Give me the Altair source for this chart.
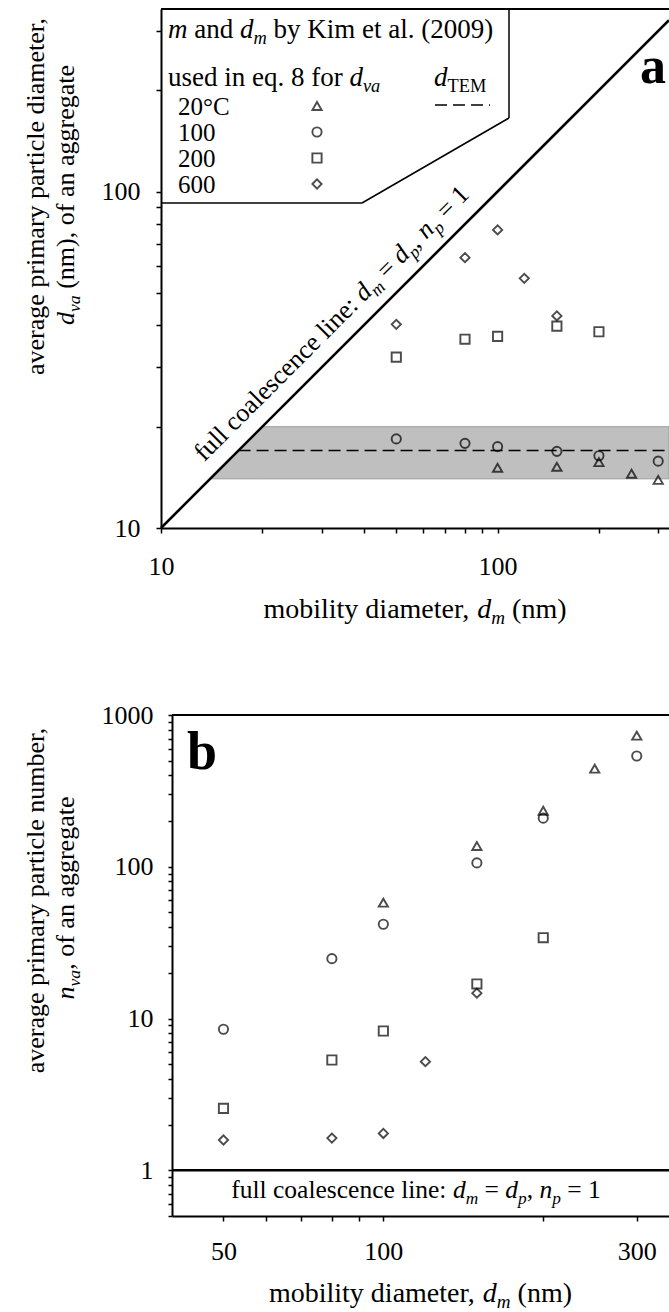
import altair as alt
import pandas as pd

FONT = "Liberation Serif"

# ---------------- data ----------------
temps = ["20", "100", "200", "600"]
temp_labels = ["20°C", "100", "200", "600"]
temp_shapes = ["triangle-up", "circle", "square", "diamond"]

# panel a: average primary particle diameter d_va (nm) vs mobility diameter d_m (nm)
a20_dm = [100, 150, 200, 250, 300]
a20_dva = [15.1, 15.2, 15.7, 14.5, 13.9]
a100_dm = [50, 80, 100, 150, 200, 300]
a100_dva = [18.4, 17.85, 17.45, 16.9, 16.4, 15.8]
a200_dm = [50, 80, 100, 150, 200]
a200_dva = [32.2, 36.4, 37.1, 39.8, 38.3]
a600_dm = [50, 80, 100, 120, 150]
a600_dva = [40.3, 63.6, 76.9, 55.2, 42.7]

# panel b: average primary particle number n_va vs mobility diameter d_m (nm)
b20_dm = [100, 150, 200, 250, 300]
b20_nva = [58, 137, 234, 443, 731]
b100_dm = [50, 80, 100, 150, 200, 300]
b100_nva = [8.5, 24.8, 41.8, 106, 209, 537]
b200_dm = [50, 80, 100, 150, 200]
b200_nva = [2.56, 5.33, 8.28, 16.9, 34.1]
b600_dm = [50, 80, 100, 120, 150]
b600_nva = [1.585, 1.63, 1.75, 5.2, 14.7]

# TEM primary particle diameter and its band
d_tem = 17
d_tem_low = 14
d_tem_high = 20

# axes
a_x_domain = [10, 323]
a_y_domain = [10, 348.7]
b_x_domain = [40, 345]
b_y_domain = [0.5, 1000]
a_ticks = [10, 20, 30, 40, 50, 60, 70, 80, 90, 100, 200, 300]
a_labels = [10, 100]
b_x_ticks = [50, 60, 70, 80, 90, 100, 200, 300]
b_x_labels = [50, 100, 300]
b_y_ticks = [0.5, 0.6, 0.7, 0.8, 0.9, 1, 2, 3, 4, 5, 6, 7, 8, 9,
             10, 20, 30, 40, 50, 60, 70, 80, 90,
             100, 200, 300, 400, 500, 600, 700, 800, 900, 1000]
b_y_labels = [1, 10, 100, 1000]

# ---------------- text helpers (Times metrics) ----------------
W_R = {' ': 250, '(': 333, ')': 333, ',': 250, '.': 250, ':': 278, '=': 564, '°': 400,
       'C': 667, 'E': 611, 'K': 722, 'M': 889, 'T': 611,
       'a': 444, 'b': 500, 'c': 444, 'd': 500, 'e': 444, 'f': 333, 'g': 500, 'h': 500,
       'i': 278, 'l': 278, 'm': 778, 'n': 500, 'o': 500, 'p': 500, 'q': 500, 'r': 333,
       's': 389, 't': 278, 'u': 500, 'v': 500, 'y': 500, 'k': 500}
W_I = {'d': 500, 'm': 722, 'n': 500, 'p': 500, 'v': 444, 'a': 500}
SUB = 0.68
NBSP = "\u00a0"


def twidth(s, size, italic):
    tab = W_I if italic else W_R
    return sum(tab.get(c, W_R.get(c, 500)) for c in s) * size / 1000.0


def rich(runs, size, x, y, angle=0, anchor="center", dy0=0.0):
    widths = []
    for t, st in runs:
        sz = size * SUB if st.startswith("s") else size
        widths.append(twidth(t, sz, "i" in st))
    total = sum(widths)
    pos = -total / 2 if anchor == "center" else (0 if anchor == "left" else -total)
    out = []
    for (t, st), w in zip(runs, widths):
        sub = st.startswith("s")
        sz = size * SUB if sub else size
        lead = len(t) - len(t.lstrip(" "))
        shown = t.strip(" ").replace(" ", NBSP)
        out.append(
            alt.Chart(pd.DataFrame({"t": [shown]}))
            .mark_text(align="left", baseline="alphabetic", font=FONT, fontSize=sz,
                       fontStyle="italic" if "i" in st else "normal", angle=angle,
                       dx=pos + twidth(" " * lead, sz, False),
                       dy=dy0 + (0.22 * size if sub else 0), color="black")
            .encode(x=x, y=y, text="t:N")
        )
        pos += w
    return out


def lab_expr(labels):
    cond = " || ".join(f"datum.value == {v}" for v in labels)
    return f"({cond}) ? datum.label : ''"


def make_axis(values, labels, pad, tick=5):
    return alt.Axis(values=values, labelExpr=lab_expr(labels), format="d", title=None,
                    grid=False, labelFlush=False, labelOverlap=False, labelPadding=pad,
                    tickSize=tick, domainColor="black", domainWidth=2, tickColor="black",
                    tickWidth=1.5, labelFont=FONT, labelFontSize=26, labelColor="black")


shape_scale = alt.Scale(domain=temps, range=temp_shapes)
PT = dict(filled=False, color="black", strokeWidth=1.9, size=85)


def long_df(series, yname):
    rows = []
    for T, xs, ys in series:
        for xv, yv in zip(xs, ys):
            rows.append({"dm": xv, yname: yv, "T": T})
    return pd.DataFrame(rows)


def vrule(x, y, x2=None, y2=None, w=1.5):
    enc = dict(x=alt.value(x), y=alt.value(y))
    if x2 is not None:
        enc["x2"] = alt.value(x2)
    if y2 is not None:
        enc["y2"] = alt.value(y2)
    return alt.Chart(pd.DataFrame({"v": [0]})).mark_rule(color="black", strokeWidth=w).encode(**enc)


# ---------------- panel a ----------------
WA, HA = 508, 519
xa = alt.Scale(type="log", domain=a_x_domain, nice=False)
ya = alt.Scale(type="log", domain=a_y_domain, nice=False)
ax_ax = make_axis(a_ticks, a_labels, 20)
ax_ay = make_axis(a_ticks, a_labels, 16)


def XA(f):
    return alt.X(f, type="quantitative", scale=xa, axis=ax_ax)


def YA(f):
    return alt.Y(f, type="quantitative", scale=ya, axis=ax_ay)


df_a = long_df([("20", a20_dm, a20_dva), ("100", a100_dm, a100_dva),
                ("200", a200_dm, a200_dva), ("600", a600_dm, a600_dva)], "dva")

x_end = a_x_domain[1]
band = alt.Chart(pd.DataFrame({"x": [d_tem_low, d_tem_high, x_end],
                               "top": [d_tem_low, d_tem_high, d_tem_high],
                               "bottom": [d_tem_low, d_tem_low, d_tem_low]})
                 ).mark_area(fill="#bfbfbf", stroke="#9c9c9c", strokeWidth=1
                 ).encode(x=XA("x"), y=YA("top"), y2=alt.Y2("bottom"))

dash = alt.Chart(pd.DataFrame({"x": [d_tem, x_end], "y": [d_tem, d_tem]})
                 ).mark_line(color="black", strokeDash=[12, 6], strokeWidth=1.5
                 ).encode(x=XA("x"), y=YA("y"))

diag = alt.Chart(pd.DataFrame({"x": [a_x_domain[0], x_end], "y": [a_x_domain[0], x_end]})
                 ).mark_line(color="black", strokeWidth=2.6
                 ).encode(x=XA("x"), y=YA("y"))

pts_a = alt.Chart(df_a).mark_point(**PT).encode(
    x=XA("dm"), y=YA("dva"), shape=alt.Shape("T:N", scale=shape_scale, legend=None))

diag_runs = [("full coalescence line: ", "r"), ("d", "i"), ("m", "si"), (" = ", "r"),
             ("d", "i"), ("p", "si"), (", ", "r"), ("n", "i"), ("p", "si"), (" = 1", "r")]
diag_text = rich(diag_runs, 26,
                 alt.X(datum=36.1, type="quantitative", scale=xa, axis=ax_ax),
                 alt.Y(datum=36.1, type="quantitative", scale=ya, axis=ax_ay),
                 angle=315, anchor="center", dy0=-16)

# legend box
leg = [vrule(0, 0, WA, None, 2),
       vrule(348, 0, None, 109), vrule(348, 109, 201, 194), vrule(201, 194, 0, 194)]
leg += rich([("m", "i"), (" and ", "r"), ("d", "i"), ("m", "si"), (" by Kim et al. (2009)", "r")],
            27, alt.value(7), alt.value(29), anchor="left")
leg += rich([("used in eq. 8 for ", "r"), ("d", "i"), ("va", "si")],
            27, alt.value(7), alt.value(77), anchor="left")
leg += rich([("d", "i"), ("TEM", "sr")], 27, alt.value(273), alt.value(77), anchor="left")
for i, (T, lab) in enumerate(zip(temps, temp_labels)):
    base = 106 + i * 26
    leg.append(alt.Chart(pd.DataFrame({"t": [lab]})).mark_text(
        align="left", baseline="alphabetic", font=FONT, fontSize=25, color="black"
    ).encode(x=alt.value(17), y=alt.value(base), text="t:N"))
    leg.append(alt.Chart(pd.DataFrame({"T": [T]})).mark_point(**PT).encode(
        x=alt.value(156), y=alt.value(base - 9),
        shape=alt.Shape("T:N", scale=shape_scale, legend=None)))
leg.append(alt.Chart(pd.DataFrame({"v": [0]})).mark_rule(
    color="black", strokeWidth=1.5, strokeDash=[12, 6]).encode(
    x=alt.value(274), x2=alt.value(329), y=alt.value(96)))

label_a = alt.Chart(pd.DataFrame({"t": ["a"]})).mark_text(
    align="right", baseline="alphabetic", font=FONT, fontSize=52, fontWeight="bold", color="black"
).encode(x=alt.value(WA - 3), y=alt.value(74), text="t:N")

titles_a = rich([("average primary particle diameter,", "r")], 26,
                alt.value(-117), alt.value(187), angle=270)
titles_a += rich([("d", "i"), ("va", "si"), (" (nm), of an aggregate", "r")], 26,
                 alt.value(-87), alt.value(186), angle=270)
titles_a += rich([("mobility diameter, ", "r"), ("d", "i"), ("m", "si"), (" (nm)", "r")], 28,
                 alt.value(WA / 2), alt.value(HA + 90))

panel_a = alt.layer(band, dash, diag, pts_a, *diag_text, *leg, label_a, *titles_a
                    ).properties(width=WA, height=HA)

# ---------------- panel b ----------------
WB, HB = 497, 501
SHIFT_B = WA - WB  # panel b starts further right; both end at the same right edge
GAP = 187          # vertical gap between the two plot areas
xb = alt.Scale(type="log", domain=b_x_domain, nice=False)
yb = alt.Scale(type="log", domain=b_y_domain, nice=False)
ax_bx = make_axis(b_x_ticks, b_x_labels, 17)
ax_by = make_axis(b_y_ticks, b_y_labels, 15, tick=4)


def XB(f):
    return alt.X(f, type="quantitative", scale=xb, axis=ax_bx)


def YB(f):
    return alt.Y(f, type="quantitative", scale=yb, axis=ax_by)


df_b = long_df([("20", b20_dm, b20_nva), ("100", b100_dm, b100_nva),
                ("200", b200_dm, b200_nva), ("600", b600_dm, b600_nva)], "nva")

one_line = alt.Chart(pd.DataFrame({"x": [b_x_domain[0], b_x_domain[1]], "y": [1, 1]})
                     ).mark_line(color="black", strokeWidth=2.6
                     ).encode(x=XB("x"), y=YB("y"))

pts_b = alt.Chart(df_b).mark_point(**PT).encode(
    x=XB("dm"), y=YB("nva"), shape=alt.Shape("T:N", scale=shape_scale, legend=None))

text_b = rich(diag_runs, 25.5, alt.value(244), alt.value(483))

label_b = alt.Chart(pd.DataFrame({"t": ["b"]})).mark_text(
    align="left", baseline="alphabetic", font=FONT, fontSize=54, fontWeight="bold", color="black"
).encode(x=alt.value(15), y=alt.value(54), text="t:N")

titles_b = rich([("average primary particle number,", "r")], 26,
                alt.value(-128), alt.value(185), angle=270)
titles_b += rich([("n", "i"), ("va", "si"), (", of an aggregate", "r")], 26,
                 alt.value(-98), alt.value(183), angle=270)
titles_b += rich([("mobility diameter, ", "r"), ("d", "i"), ("m", "si"), (" (nm)", "r")], 28,
                 alt.value(WB / 2), alt.value(HB + 86))

panel_b = alt.layer(one_line, pts_b, *text_b, label_b, vrule(0, 0, WB, None, 2), *titles_b
                    ).properties(width=WB, height=HB)

spacer = alt.Chart(pd.DataFrame({"v": [0]})).mark_point(opacity=0).encode(
    x=alt.value(0), y=alt.value(0)).properties(width=SHIFT_B, height=HB)

row_b = alt.hconcat(spacer, panel_b, spacing=0, bounds="flush")

# fixed page: 669 x 1312, plot a origin at (161, 9)
LEFT, TOP, PAGE_W, PAGE_H = 161, 9, 669, 1312
chart = alt.vconcat(panel_a, row_b, spacing=GAP, bounds="flush").properties(
    autosize=alt.AutoSizeParams(type="none"),
    padding={"left": LEFT, "top": TOP, "right": PAGE_W - LEFT, "bottom": PAGE_H - TOP},
    background="white"
).configure_view(stroke=None)

chart.save("out.html", embed_options={"renderer": "svg", "actions": False})
